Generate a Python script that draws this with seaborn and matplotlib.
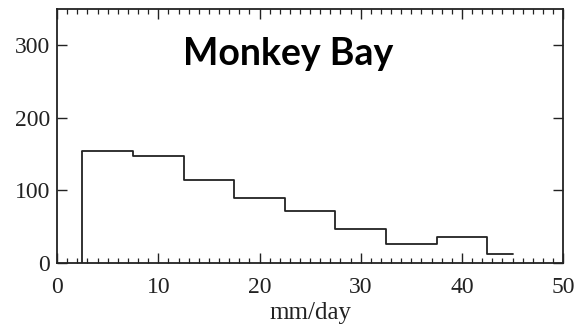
import matplotlib
matplotlib.use("Agg")
import matplotlib.pyplot as plt
from matplotlib.ticker import MultipleLocator
import numpy as np
import seaborn as sns

# Daily rainfall histogram, Monkey Bay
bin_edges = [2.5, 7.5, 12.5, 17.5, 22.5, 27.5, 32.5, 37.5, 42.5, 45.0]
counts = [155, 148, 114, 89, 72, 47, 26, 36, 13]
x_ticks = [0, 10, 20, 30, 40, 50]
y_ticks = [0, 100, 200, 300]
station = "Monkey Bay"
x_label = "mm/day"

sns.set_theme(style="ticks")
plt.rcParams["font.family"] = ["Liberation Serif", "DejaVu Serif"]

fig = plt.figure(figsize=(5.77, 3.35), dpi=100)
ax = fig.add_axes([0.099, 0.215, 0.877, 0.758])

centers = [(a + b) / 2 for a, b in zip(bin_edges[:-1], bin_edges[1:])]
sns.histplot(x=centers, weights=counts, bins=bin_edges, element="step",
             fill=False, color="#222222", linewidth=1.3, ax=ax)
# leading edge of the first bin down to zero
ax.vlines(bin_edges[0], 0, counts[0], color="#222222", linewidth=1.3)

ax.set_xlim(0, 50)
ax.set_ylim(0, 350)
ax.set_xticks(x_ticks)
ax.set_yticks(y_ticks)
ax.xaxis.set_minor_locator(MultipleLocator(1))
ax.tick_params(axis="both", which="both", direction="in", color="#222222",
               labelsize=17, labelcolor="#222222")
ax.tick_params(axis="x", which="major", length=7, width=1.0, top=True, pad=10)
ax.tick_params(axis="x", which="minor", length=3.5, width=0.9, top=True)
ax.tick_params(axis="y", which="major", length=7, width=1.0, right=True, pad=5)
ax.set_ylabel("")
ax.set_xlabel(x_label, fontsize=18, labelpad=3, color="#222222")

for side in ["left", "right", "top", "bottom"]:
    ax.spines[side].set_visible(True)
    ax.spines[side].set_color("#222222")
    ax.spines[side].set_linewidth(1.3)

ax.text(22.8, 273, station, ha="center", va="baseline", fontsize=27,
        fontweight="bold", family=["Lato", "DejaVu Sans"], color="black")

fig.savefig("out.png", dpi=100)
